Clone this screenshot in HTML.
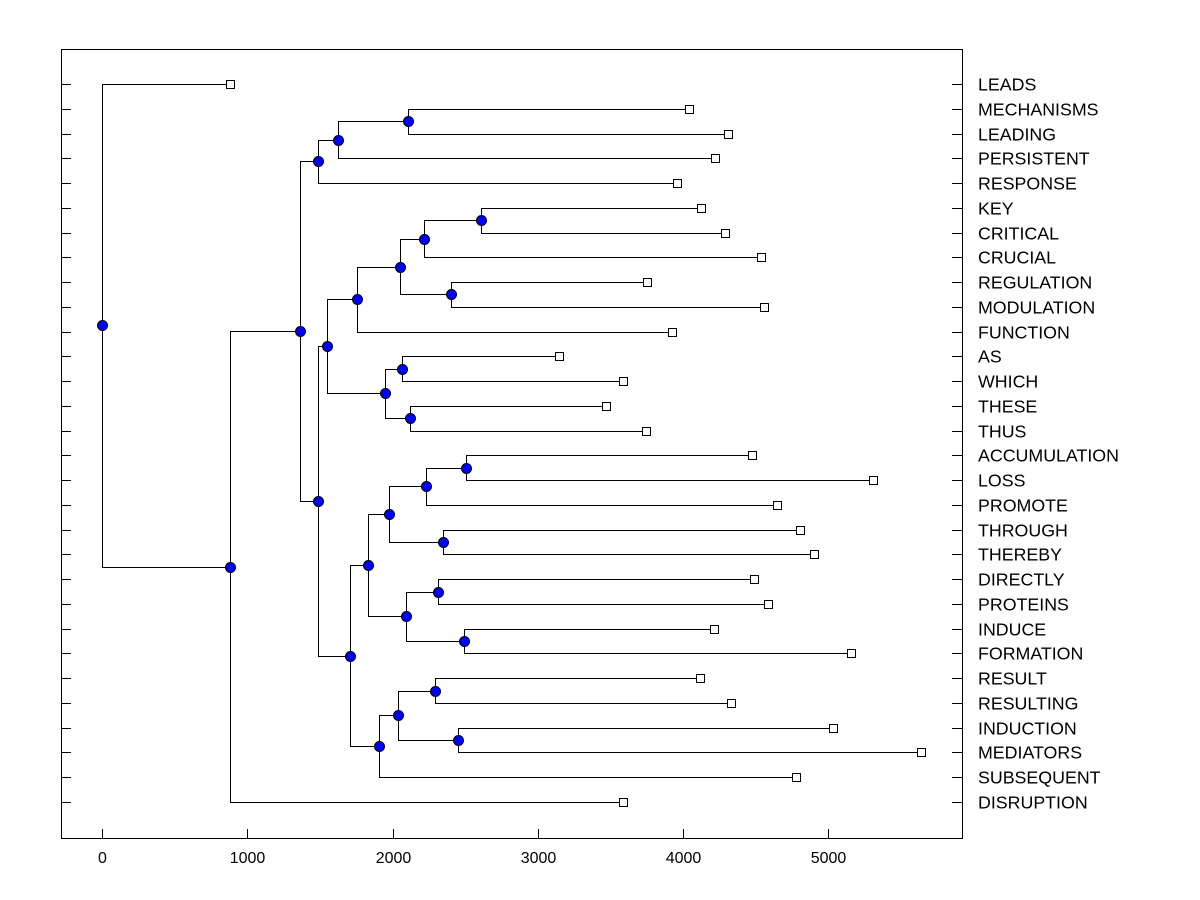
<!DOCTYPE html>
<html><head><meta charset="utf-8"><style>
html,body{margin:0;padding:0;background:#fff;}
svg{display:block;font-family:"Liberation Sans",Arial,sans-serif;}
</style></head><body>
<svg id="chart" width="1200" height="900"></svg>
<script>
// ---- data ----
const leafNames = ["LEADS","MECHANISMS","LEADING","PERSISTENT","RESPONSE","KEY","CRITICAL","CRUCIAL","REGULATION","MODULATION","FUNCTION","AS","WHICH","THESE","THUS","ACCUMULATION","LOSS","PROMOTE","THROUGH","THEREBY","DIRECTLY","PROTEINS","INDUCE","FORMATION","RESULT","RESULTING","INDUCTION","MEDIATORS","SUBSEQUENT","DISRUPTION"];
const leafValues = [881,4040,4308,4219,3957,4122,4288,4535,3751,4556,3923,3145,3586,3469,3744,4473,5306,4646,4804,4900,4487,4584,4212,5155,4116,4329,5031,5637,4776,3586];
// internal nodes: children refer to leaf index (number) or node id (string)
const nodeIds = ["n1","n2","n3","n4","n5","n6","n7","n8","n9","n10","n11","n12","n13","n14","n15","n16","n17","n18","n19","n20","n21","n22","n23","n24","n25","n26","n27","n28","n29"];
const nodeLeft = [1,"n1",5,"n3",8,"n4","n6",11,13,"n8","n7","n2","n11",15,"n14",18,"n15",20,22,"n18","n17",24,26,"n22","n24","n21","n12","n27",0];
const nodeRight = [2,3,6,7,9,"n5",10,12,14,"n9","n10",4,"n26",16,17,19,"n16",21,23,"n19","n20",25,27,"n23",28,"n25","n13",29,"n28"];
const nodeHeights = [2106,1624,2608,2216,2402,2051,1755,2065,2120,1948,1549,1487,1487,2505,2230,2347,1975,2312,2491,2092,1831,2292,2450,2037,1906,1707,1363,881,0];
const xTicks = [0,1000,2000,3000,4000,5000];

// ---- axes ----
const L=61,R=962,T=49,B=838;
const xs = v => 102 + v*0.14527;
const rowY = i => 84 + i*(802-84)/29;
const svg=document.getElementById('chart');
const NS="http://www.w3.org/2000/svg";
function mk(tag,attrs,parent){const e=document.createElementNS(NS,tag);for(const k in attrs)e.setAttribute(k,attrs[k]);(parent||svg).appendChild(e);return e;}

const frame=mk('rect',{x:L+0.5,y:T+0.5,width:R-L,height:B-T,fill:'none',stroke:'#000','stroke-width':1});



xTicks.forEach(t=>{
  const x=Math.round(xs(t))+0.5;
  const tk=mk('line',{x1:x,y1:B,x2:x,y2:B-9,stroke:'#000'});
  
  
  const lb=mk('text',{x:x,y:B+25,'font-size':16,'text-anchor':'middle',fill:'#000'});
  lb.textContent=t;
  
  
});

leafNames.forEach((n,i)=>{
  const y=Math.round(rowY(i))+0.5;
  const t1=mk('line',{x1:L,y1:y,x2:L+10,y2:y,stroke:'#000'});
  
  
  const t2=mk('line',{x1:R-10,y1:y,x2:R,y2:y,stroke:'#000'});
  
  
  const lb=mk('text',{x:978,y:y+6,'font-size':17.8,fill:'#000'});
  lb.textContent=n;
  
  
});

// ---- tree ----
const pos={};
leafNames.forEach((n,i)=>{pos[i]={x:xs(leafValues[i]),y:rowY(i),leaf:true};});
function resolve(id){
  if(pos[id])return pos[id];
  const k=nodeIds.indexOf(id);
  const a=resolve(nodeLeft[k]),b=resolve(nodeRight[k]);
  pos[id]={x:xs(nodeHeights[k]),y:(a.y+b.y)/2,a:a,b:b};
  return pos[id];
}
nodeIds.forEach(resolve);
nodeIds.forEach(id=>{
  const p=pos[id];
  const px=Math.round(p.x)+0.5;
  [p.a,p.b].forEach(c=>{
    const cy=Math.round(c.y)+0.5, cx=Math.round(c.x)+0.5;
    const d=`M${px},${Math.round(p.y)+0.5}V${cy}H${cx}`;
    const ln=mk('path',{d:d,fill:'none',stroke:'#000','stroke-width':1});
    
    
  });
});
leafNames.forEach((n,i)=>{
  const p=pos[i];
  const sq=mk('rect',{x:Math.round(p.x)-3.5,y:Math.round(p.y)-3.5,width:8,height:8,fill:'#fff',stroke:'#000'});
  
  
});
nodeIds.forEach(id=>{
  const p=pos[id];
  const c=mk('circle',{cx:Math.round(p.x)+0.5,cy:Math.round(p.y)+0.5,r:5,fill:'#0000ff',stroke:'#000','stroke-width':1});
  
  
});
</script>
</body></html>
